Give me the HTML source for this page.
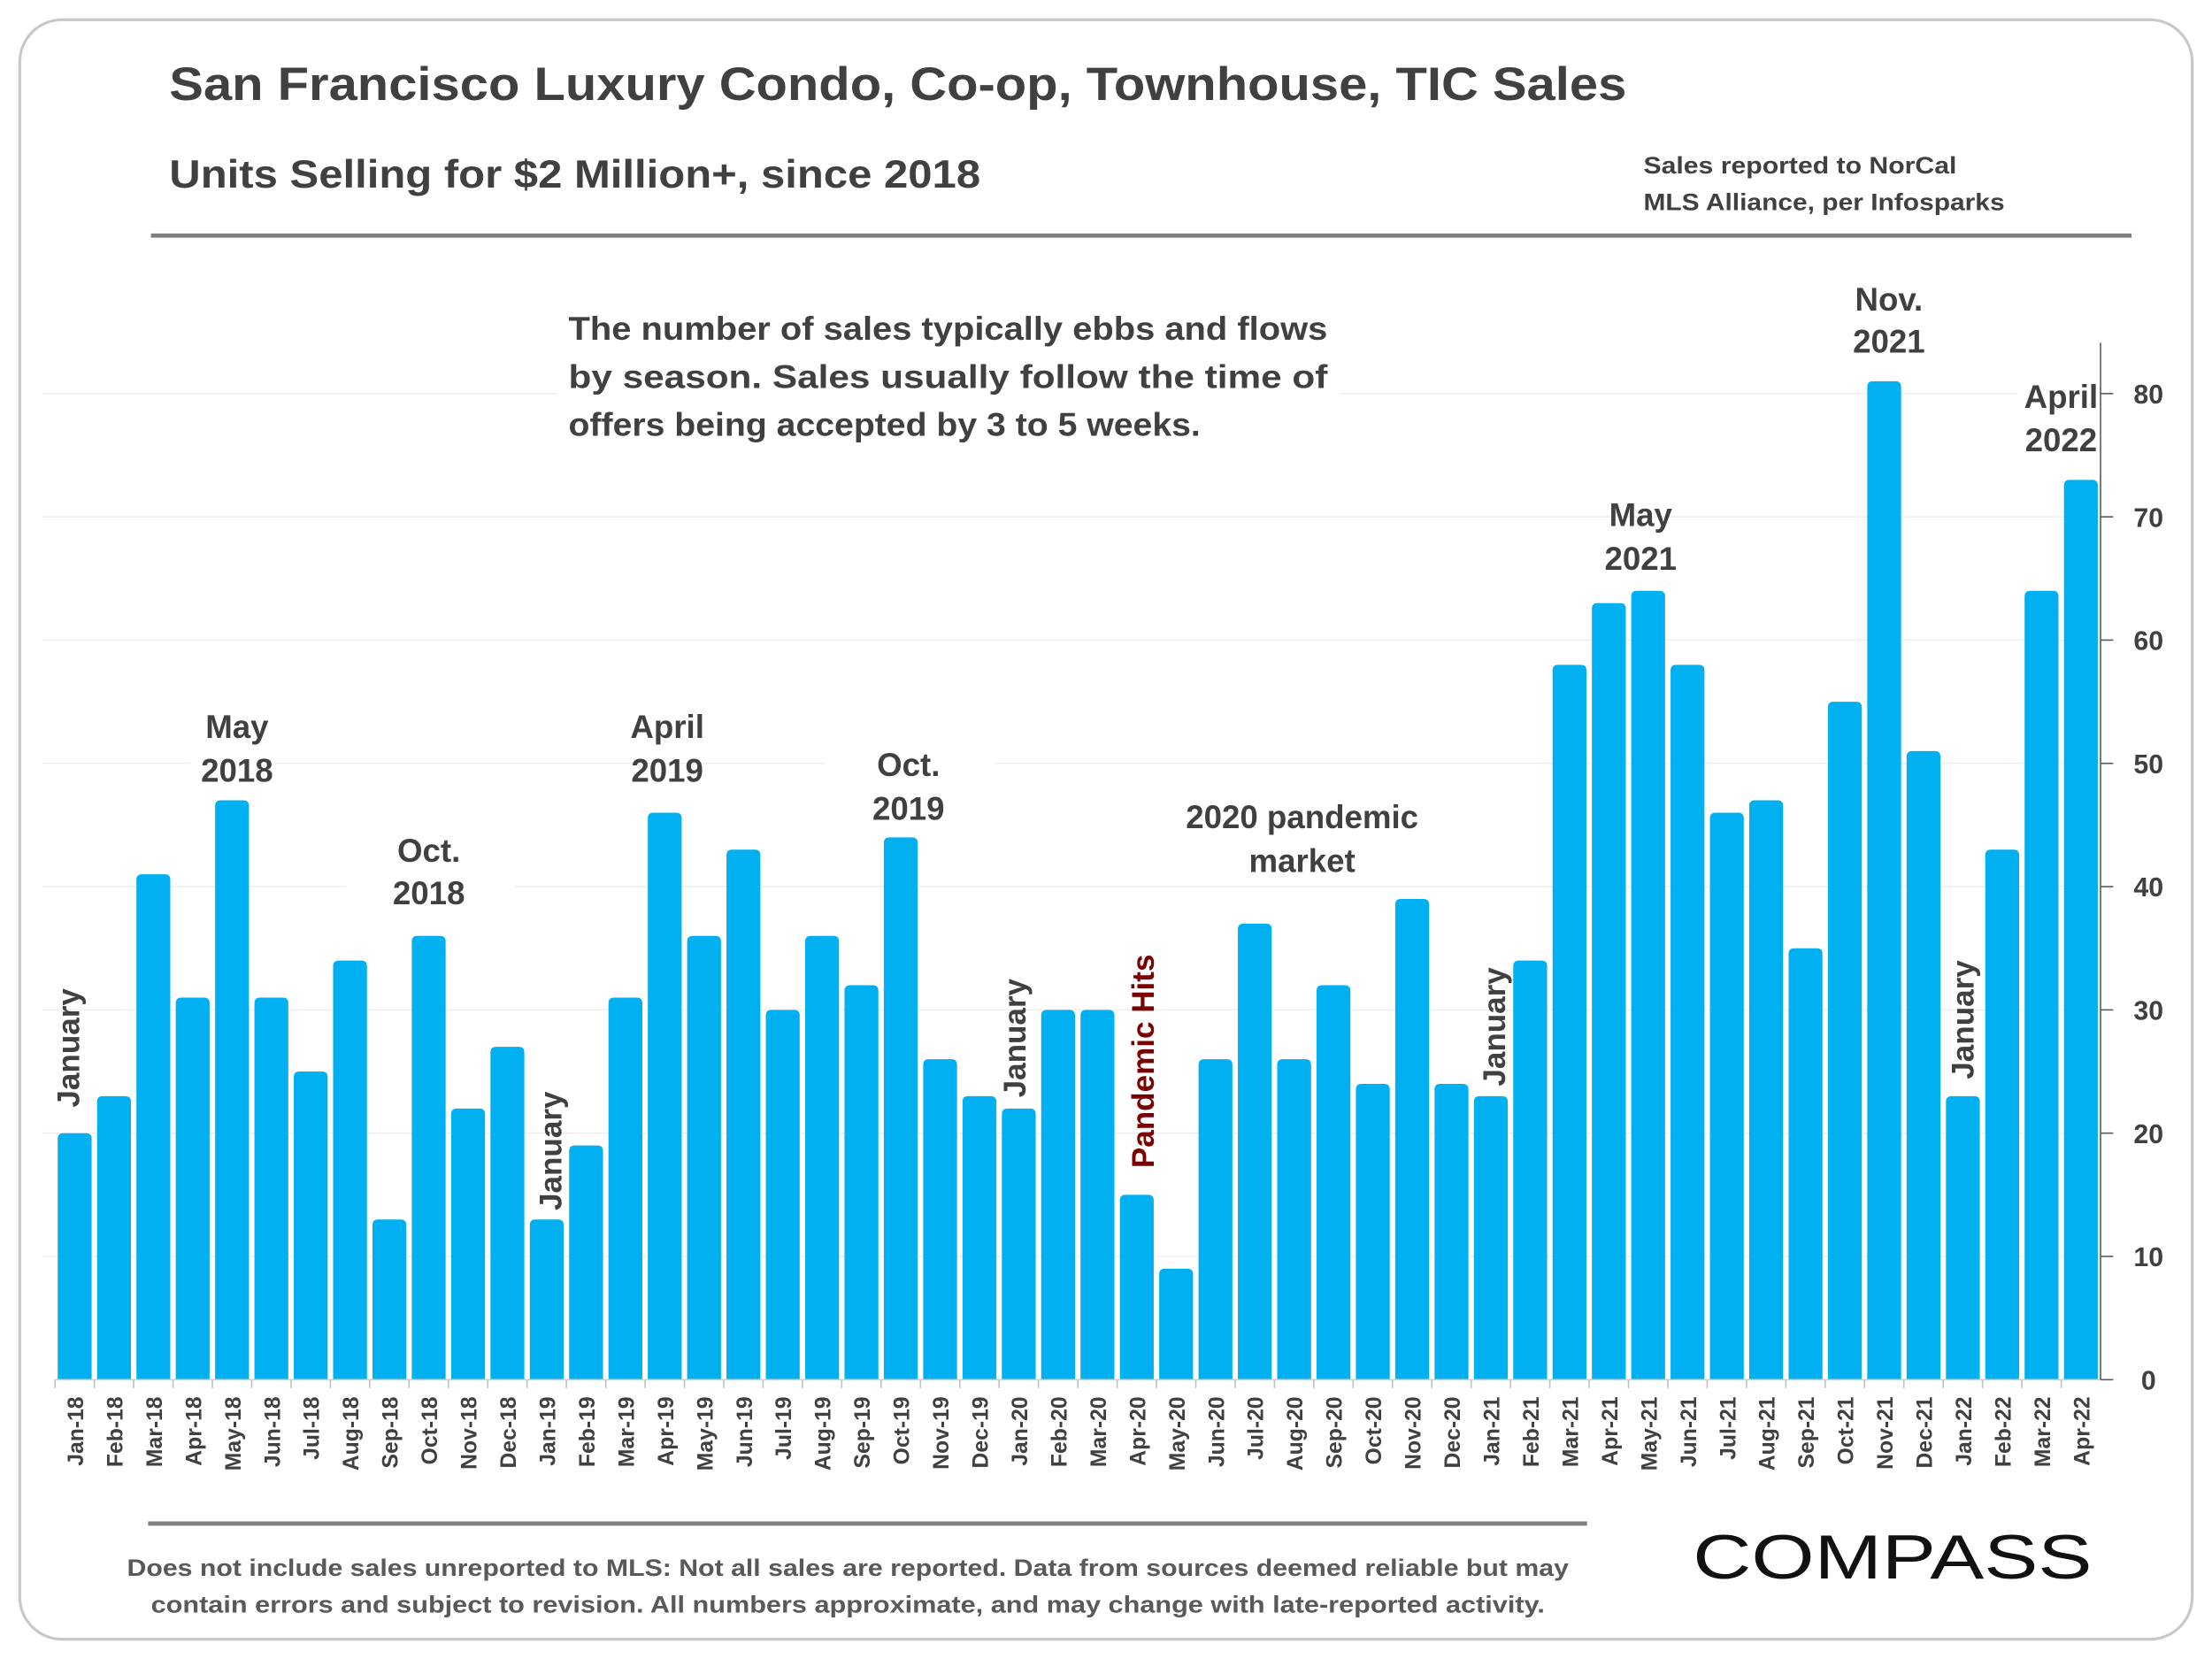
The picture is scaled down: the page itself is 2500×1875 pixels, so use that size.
<!DOCTYPE html>
<html><head><meta charset="utf-8"><style>
html,body{margin:0;padding:0;background:#fff;}
svg{display:block;font-family:"Liberation Sans",sans-serif;}
</style></head><body>
<svg width="2500" height="1875" viewBox="0 0 1568 1176">
<rect x="14" y="14" width="1540" height="1148" rx="30" fill="#fff" stroke="#c8c8c8" stroke-width="2"/>
<text x="120" y="71" font-size="33" font-weight="bold" fill="#404040" textLength="1033" lengthAdjust="spacingAndGlyphs">San Francisco Luxury Condo, Co-op, Townhouse, TIC Sales</text>
<text x="120" y="133" font-size="28" font-weight="bold" fill="#404040" textLength="575" lengthAdjust="spacingAndGlyphs">Units Selling for  $2 Million+, since 2018</text>
<text x="1165" y="123" font-size="17" font-weight="bold" fill="#404040" textLength="222" lengthAdjust="spacingAndGlyphs">Sales reported to NorCal</text>
<text x="1165" y="149" font-size="17" font-weight="bold" fill="#404040" textLength="256" lengthAdjust="spacingAndGlyphs">MLS Alliance, per Infosparks</text>
<line x1="107" y1="167" x2="1511" y2="167" stroke="#7f7f7f" stroke-width="3"/>
<g id="grid"></g>
<g id="bars"></g>
<g id="axis"></g>
<g font-weight="bold" fill="#404040" font-size="23" text-anchor="middle">
<rect x="395" y="210" width="555" height="110" fill="#fff"/>
<text x="403" y="241" text-anchor="start" textLength="538" lengthAdjust="spacingAndGlyphs">The number of sales typically ebbs and flows</text>
<text x="403" y="275" text-anchor="start" textLength="538" lengthAdjust="spacingAndGlyphs">by season. Sales usually follow the time of</text>
<text x="403" y="309" text-anchor="start" textLength="448" lengthAdjust="spacingAndGlyphs">offers being accepted by 3 to 5 weeks.</text>
<rect x="135" y="498" width="60" height="64" fill="#fff"/>
<text x="168" y="523">May</text><text x="168" y="554">2018</text>
<rect x="245" y="585" width="120" height="64" fill="#fff"/>
<text x="304" y="611">Oct.</text><text x="304" y="641">2018</text>
<text x="473" y="523">April</text><text x="473" y="554">2019</text>
<rect x="585" y="525" width="120" height="64" fill="#fff"/>
<text x="644" y="550">Oct.</text><text x="644" y="581">2019</text>
<rect x="830" y="562" width="190" height="64" fill="#fff"/>
<text x="923" y="587">2020 pandemic</text><text x="923" y="618">market</text>
<text x="1163" y="373">May</text><text x="1163" y="404">2021</text>
<text x="1339" y="220">Nov.</text><text x="1339" y="250">2021</text>
<rect x="1430" y="262" width="58" height="64" fill="#fff"/>
<text x="1461" y="289">April</text><text x="1461" y="320">2022</text>
<text transform="translate(56,785) rotate(-90)" text-anchor="start" font-size="22">January</text>
<text transform="translate(398,858) rotate(-90)" text-anchor="start" font-size="22">January</text>
<text transform="translate(727,778) rotate(-90)" text-anchor="start" font-size="22">January</text>
<text transform="translate(818,828) rotate(-90)" text-anchor="start" font-size="22" fill="#7b0000">Pandemic Hits</text>
<text transform="translate(1067,770) rotate(-90)" text-anchor="start" font-size="22">January</text>
<text transform="translate(1399,765) rotate(-90)" text-anchor="start" font-size="22">January</text>
</g>
<line x1="105" y1="1080" x2="1125" y2="1080" stroke="#7f7f7f" stroke-width="3"/>
<text x="601" y="1117" font-size="17" font-weight="bold" fill="#595959" text-anchor="middle" textLength="1022" lengthAdjust="spacingAndGlyphs">Does not include sales unreported to MLS: Not all sales are reported. Data from sources deemed reliable but may</text>
<text x="601" y="1143" font-size="17" font-weight="bold" fill="#595959" text-anchor="middle" textLength="988" lengthAdjust="spacingAndGlyphs">contain errors and subject to revision.  All numbers approximate, and may change with late-reported activity.</text>
<text x="1200" y="1119" font-size="44" fill="#111" textLength="283" lengthAdjust="spacingAndGlyphs">COMPASS</text>
</svg>
<script>
const categories=["Jan-18","Feb-18","Mar-18","Apr-18","May-18","Jun-18","Jul-18","Aug-18","Sep-18","Oct-18","Nov-18","Dec-18","Jan-19","Feb-19","Mar-19","Apr-19","May-19","Jun-19","Jul-19","Aug-19","Sep-19","Oct-19","Nov-19","Dec-19","Jan-20","Feb-20","Mar-20","Apr-20","May-20","Jun-20","Jul-20","Aug-20","Sep-20","Oct-20","Nov-20","Dec-20","Jan-21","Feb-21","Mar-21","Apr-21","May-21","Jun-21","Jul-21","Aug-21","Sep-21","Oct-21","Nov-21","Dec-21","Jan-22","Feb-22","Mar-22","Apr-22"];
const sales=[20,23,41,31,47,31,25,34,13,36,22,27,13,19,31,46,36,43,30,36,32,44,26,23,22,30,30,15,9,26,37,26,32,24,39,24,23,34,58,63,64,58,46,47,35,55,81,51,23,43,64,73];
const yTicks=[0,10,20,30,40,50,60,70,80];
const NS="http://www.w3.org/2000/svg";
const x0=39,x1=1489,yBase=978,yTop80=279;
const step=(x1-x0)/categories.length;
function xc(i){return x0+step*(i+0.5);}
function y(v){return yBase-(yBase-yTop80)*v/80;}
function mk(tag,attrs,parent){const e=document.createElementNS(NS,tag);for(const k in attrs)e.setAttribute(k,attrs[k]);parent.appendChild(e);return e;}
const grid=document.getElementById('grid'),bars=document.getElementById('bars'),axis=document.getElementById('axis');
yTicks.forEach(t=>{
  if(t>0){const g=mk('line',{x1:30,x2:x1,y1:y(t),y2:y(t),stroke:'#efefef','stroke-width':1},grid);
  
  }
  mk('line',{x1:x1,x2:x1+9,y1:y(t),y2:y(t),stroke:'#595959','stroke-width':1},axis);
  const l=mk('text',{x:1523,y:y(t)+7,'font-size':19,'font-weight':'bold',fill:'#404040','text-anchor':'middle'},axis);
  l.textContent=t;
  
  
});
sales.forEach((v,i)=>{
  const w=24,top=y(v),h=yBase-top,r=Math.min(4,h/2);
  const p=mk('path',{d:`M${xc(i)-w/2},${yBase}V${top+r}Q${xc(i)-w/2},${top} ${xc(i)-w/2+r},${top}H${xc(i)+w/2-r}Q${xc(i)+w/2},${top} ${xc(i)+w/2},${top+r}V${yBase}Z`,fill:'#00b0f0'},bars);
  
  
  const lb=mk('text',{transform:`translate(${xc(i)+6},${yBase+12}) rotate(-90)`,'font-size':15.5,'font-weight':'bold',fill:'#404040','text-anchor':'end'},axis);
  lb.textContent=categories[i];
  
  
  mk('line',{x1:x0+step*i,x2:x0+step*i,y1:yBase,y2:yBase+6,stroke:'#bfbfbf','stroke-width':1},axis);
});
const xa=mk('line',{x1:x0,x2:x1,y1:yBase,y2:yBase,stroke:'#d0d0d0','stroke-width':1},axis);


const ya=mk('line',{x1:x1,x2:x1,y1:243,y2:yBase,stroke:'#595959','stroke-width':1},axis);


</script>
</body></html>
